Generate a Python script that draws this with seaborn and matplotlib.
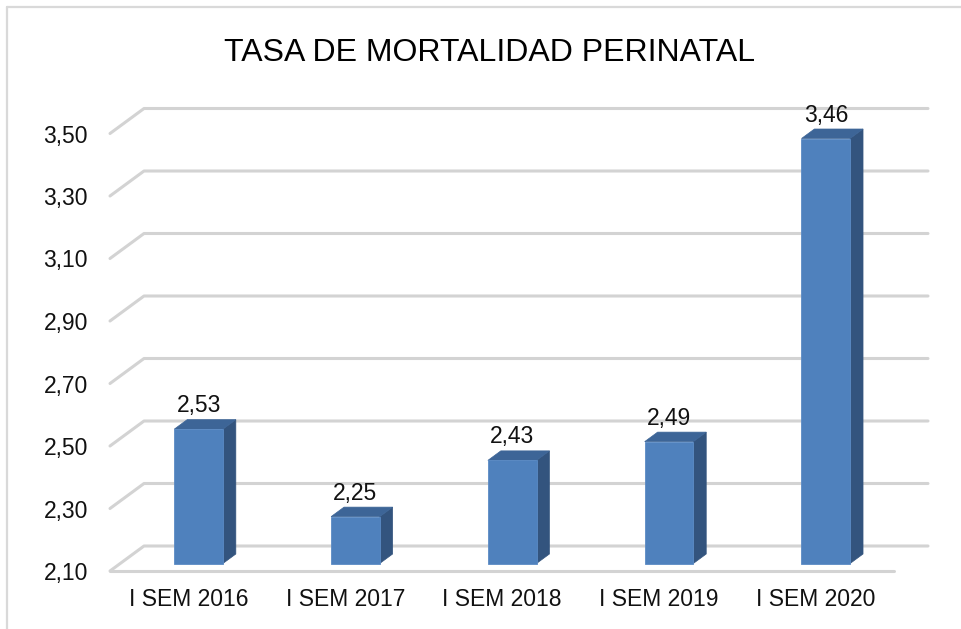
import matplotlib
matplotlib.use("Agg")
import matplotlib.pyplot as plt
from matplotlib import font_manager
from matplotlib.lines import Line2D
from matplotlib.patches import Polygon
from matplotlib.transforms import IdentityTransform, ScaledTranslation
import numpy as np
import pandas as pd
import seaborn as sns

# ---- data -------------------------------------------------------------
categories = ["I SEM 2016", "I SEM 2017", "I SEM 2018", "I SEM 2019", "I SEM 2020"]
values = [2.53, 2.25, 2.43, 2.49, 3.46]
value_labels = ["2,53", "2,25", "2,43", "2,49", "3,46"]
y_ticks = [2.10, 2.30, 2.50, 2.70, 2.90, 3.10, 3.30, 3.50]
y_tick_labels = ["2,10", "2,30", "2,50", "2,70", "2,90", "3,10", "3,30", "3,50"]
title = "TASA DE MORTALIDAD PERINATAL"

# ---- style ------------------------------------------------------------
sns.set_style("white")
plt.rcParams["font.family"] = ["Liberation Sans", "DejaVu Sans"]

FRONT = "#4F81BD"
SIDE = "#33547E"
TOP = "#3D6597"
GRID = "#d3d3d3"

W, H, DPI = 962, 629, 100
fig = plt.figure(figsize=(W / DPI, H / DPI), dpi=DPI)
fig.patch.set_facecolor("white")

# front plane of the 3-D box (floor front edge at the bottom)
ax = fig.add_axes([110 / W, 1 - 571 / H, 784 / W, 437.5 / H])

df = pd.DataFrame({"periodo": categories, "tasa": values})
sns.barplot(data=df, x="periodo", y="tasa", ax=ax, color=FRONT,
            saturation=1, width=0.31, errorbar=None, zorder=3)

base = y_ticks[0]
ax.set_xlim(-0.5, len(categories) - 0.5)
ax.set_ylim(base, y_ticks[-1])
ax.set_yticks(y_ticks, y_tick_labels)
ax.tick_params(axis="y", length=0, pad=16, labelsize=16.5, labelcolor="#111111")
ax.tick_params(axis="x", length=0, pad=12, labelsize=16.5, labelcolor="#111111")
ax.set_xlabel("")
ax.set_ylabel("")
ax.set_facecolor("none")
for s in ax.spines.values():
    s.set_visible(False)
ax.grid(False)

# oblique depth direction of the box, in pixels for one full depth unit
DX, DY = 34.0, 25.0
BAR_FRONT, BAR_BACK = 0.30, 0.68


def proj(x, y, depth):
    px, py = ax.transData.transform((x, y))
    return px + depth * DX, py + depth * DY


def disp_line(points, **kw):
    xs, ys = zip(*points)
    ax.add_line(Line2D(xs, ys, transform=IdentityTransform(), clip_on=False, **kw))


x0, x1 = ax.get_xlim()
# side-wall and back-wall gridlines
for v in y_ticks:
    disp_line([proj(x0, v, 0), proj(x0, v, 1), proj(x1, v, 1)],
              color=GRID, lw=2.2, solid_capstyle="round", solid_joinstyle="round", zorder=1)
# floor front edge
disp_line([proj(x0, base, 0), proj(x1, base, 0)],
          color=GRID, lw=2.2, solid_capstyle="round", zorder=1)

# bars: shift the front faces into the box and add side/top faces
shift = ScaledTranslation(BAR_FRONT * DX / DPI, BAR_FRONT * DY / DPI, fig.dpi_scale_trans)
d = BAR_BACK - BAR_FRONT
for patch, label in zip(ax.patches, value_labels):
    top = patch.get_height()
    patch.set_y(base)
    patch.set_height(top - base)
    patch.set_transform(ax.transData + shift)
    patch.set_clip_on(False)
    patch.set_edgecolor("#5b8bc5")
    patch.set_linewidth(0.6)

    xl = patch.get_x()
    xr = xl + patch.get_width()
    fl_b = proj(xr, base, BAR_FRONT)
    fl_t = proj(xr, top, BAR_FRONT)
    side = [fl_b, fl_t, (fl_t[0] + d * DX, fl_t[1] + d * DY), (fl_b[0] + d * DX, fl_b[1] + d * DY)]
    ax.add_patch(Polygon(side, closed=True, facecolor=SIDE, edgecolor=SIDE, lw=0.5,
                         transform=IdentityTransform(), clip_on=False, zorder=2.5))
    tl = proj(xl, top, BAR_FRONT)
    topface = [tl, fl_t, (fl_t[0] + d * DX, fl_t[1] + d * DY), (tl[0] + d * DX, tl[1] + d * DY)]
    ax.add_patch(Polygon(topface, closed=True, facecolor=TOP, edgecolor=TOP, lw=0.5,
                         transform=IdentityTransform(), clip_on=False, zorder=2.5))

    ax.annotate(label, xy=((xl + xr) / 2, top), xycoords="data",
                xytext=(BAR_FRONT * DX, BAR_FRONT * DY + 17), textcoords="offset pixels",
                ha="center", va="baseline", fontsize=16.5, color="#111111", zorder=5)

# title
names = {f.name for f in font_manager.fontManager.ttflist}
if "Liberation Sans Narrow" in names:
    title_family, title_size = ["Liberation Sans Narrow", "Liberation Sans"], 27
else:
    title_family, title_size = ["Liberation Sans", "DejaVu Sans"], 23
fig.text(490 / W, 1 - 61 / H, title, ha="center", va="baseline",
         fontsize=title_size, family=title_family, color="#000000")

# chart-area frame
frame_kw = dict(color="#d9d9d9", lw=1.6, transform=IdentityTransform())
fig.add_artist(Line2D([7, W], [H - 6.5, H - 6.5], **frame_kw))
fig.add_artist(Line2D([7, 7], [0, H - 6.5], **frame_kw))

fig.savefig("out.png", dpi=DPI, facecolor="white")
